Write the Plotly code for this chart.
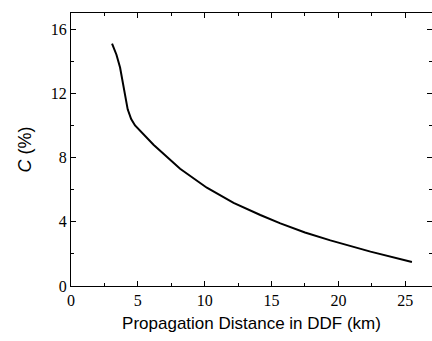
import plotly.graph_objects as go

distance_km = [3.07, 3.4, 3.67, 3.95, 4.24, 4.5, 4.79, 6.17, 8.16, 10.16, 12.16, 14.16, 15.66, 17.5, 19.4, 22.4, 25.5]
c_percent = [15.1, 14.4, 13.6, 12.3, 11.0, 10.4, 10.0, 8.8, 7.3, 6.12, 5.17, 4.42, 3.9, 3.33, 2.84, 2.14, 1.5]
x_ticks = [0, 5, 10, 15, 20, 25]
y_ticks = [0, 4, 8, 12, 16]

fig = go.Figure()
fig.add_trace(go.Scatter(x=distance_km, y=c_percent, mode="lines",
                         line=dict(color="black", width=2),
                         showlegend=False))

serif = "Liberation Serif"
sans = "Liberation Sans"
tickfont = dict(family=serif, size=16, color="black")
fig.update_layout(
    width=432, height=341,
    margin=dict(l=71, r=0, t=13, b=55),
    plot_bgcolor="white", paper_bgcolor="white",
    xaxis=dict(range=[0, 27], tickvals=x_ticks, ticks="inside", ticklen=5, tickwidth=1.3,
               tickcolor="black", showline=True, linecolor="black", linewidth=1.3,
               mirror="ticks", showgrid=False, zeroline=False, tickfont=tickfont,
               minor=dict(dtick=2.5, ticks="inside", ticklen=3, tickcolor="black", tickwidth=1),
               title=dict(text="Propagation Distance in DDF (km)",
                          font=dict(family=sans, size=17, color="black"), standoff=8)),
    yaxis=dict(range=[0, 17], tickvals=y_ticks, ticks="inside", ticklen=5, tickwidth=1.3,
               tickcolor="black", showline=True, linecolor="black", linewidth=1.3,
               mirror="ticks", showgrid=False, zeroline=False, tickfont=tickfont,
               minor=dict(dtick=2, ticks="inside", ticklen=3, tickcolor="black", tickwidth=1),
               title=dict(text="<i>C</i> (%)",
                          font=dict(family=sans, size=18, color="black"), standoff=14)),
)
fig.write_html("out.html")
